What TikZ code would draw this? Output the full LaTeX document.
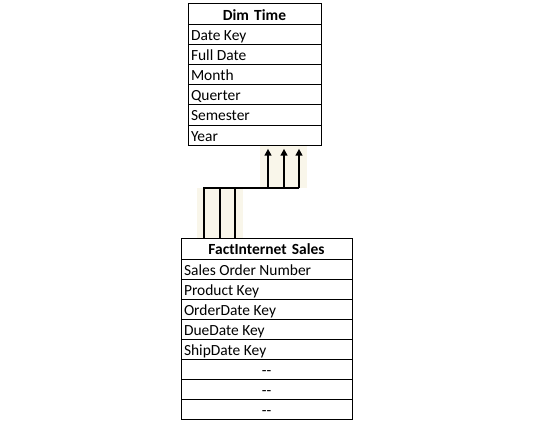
\documentclass[tikz,border=0pt]{standalone}
\usepackage{fontspec}
\setmainfont{Carlito}
\usepackage{xcolor}
\definecolor{linkshade}{HTML}{F9F6EA}
\usetikzlibrary{arrows.meta}

\begin{document}
\begin{tikzpicture}[x=0.75pt,y=-0.75pt,
  cell/.style={draw,line width=0.75pt,inner xsep=2.25pt,inner ysep=0pt,text height=11pt,text depth=2pt,font=\fontsize{11.6}{13}\selectfont},
  dimcell/.style={cell,minimum width=99.75pt,minimum height=15pt,text width=95.25pt,align=flush left},
  factcell/.style={cell,minimum width=128.25pt,minimum height=15pt,text width=123.75pt,align=flush left},
  link/.style={line width=1.5pt}]

\useasboundingbox (0,0) rectangle (534,431);

% faint shading behind the links
\fill[linkshade] (260,146) rectangle (307,188);
\fill[linkshade] (197,188) rectangle (243,238);

% Dim Time
\node[dimcell,minimum height=15.75pt,align=center,font=\fontsize{11.6}{13}\selectfont\bfseries] (dimhead) at (254.5,14.5) {Dim Time};
\node[dimcell] (datekey) at (254.5,35) {Date Key};
\node[dimcell] (fulldate) at (254.5,55) {Full Date};
\node[dimcell] (month) at (254.5,75) {Month};
\node[dimcell] (quarter) at (254.5,95) {Querter};
\node[dimcell] (semester) at (254.5,115) {Semester};
\node[dimcell] (year) at (254.5,135) {Year};

% FactInternet Sales
\node[factcell,minimum height=15.75pt,align=center,font=\fontsize{11.6}{13}\selectfont\bfseries] (facthead) at (266.5,248.5) {FactInternet Sales};
\node[factcell] (ordernum) at (266.5,269) {Sales Order Number};
\node[factcell] (productkey) at (266.5,289) {Product Key};
\node[factcell] (orderdate) at (266.5,309) {OrderDate Key};
\node[factcell] (duedate) at (266.5,329) {DueDate Key};
\node[factcell] (shipdate) at (266.5,349) {ShipDate Key};
\node[factcell,align=center] (more1) at (266.5,369) {{-}{-}};
\node[factcell,align=center] (more2) at (266.5,389) {{-}{-}};
\node[factcell,align=center] (more3) at (266.5,409) {{-}{-}};

% links
\coordinate (dn1) at (204,188);
\coordinate (dn2) at (220,188);
\coordinate (dn3) at (235,188);
\coordinate (up1) at (268,188);
\coordinate (up2) at (284,188);
\coordinate (up3) at (299,188);

\draw[link] (dn1 |- facthead.north) -- (dn1) -- (up3);
\draw[link] (dn2 |- facthead.north) -- (dn2);
\draw[link] (dn3 |- facthead.north) -- (dn3);
\draw[link,-{Triangle[width=5pt,length=5pt]},shorten >=2.5pt] (up1) -- (up1 |- year.south);
\draw[link,-{Triangle[width=5pt,length=5pt]},shorten >=2.5pt] (up2) -- (up2 |- year.south);
\draw[link,-{Triangle[width=5pt,length=5pt]},shorten >=2.5pt] (up3) -- (up3 |- year.south);
\end{tikzpicture}
\end{document}
